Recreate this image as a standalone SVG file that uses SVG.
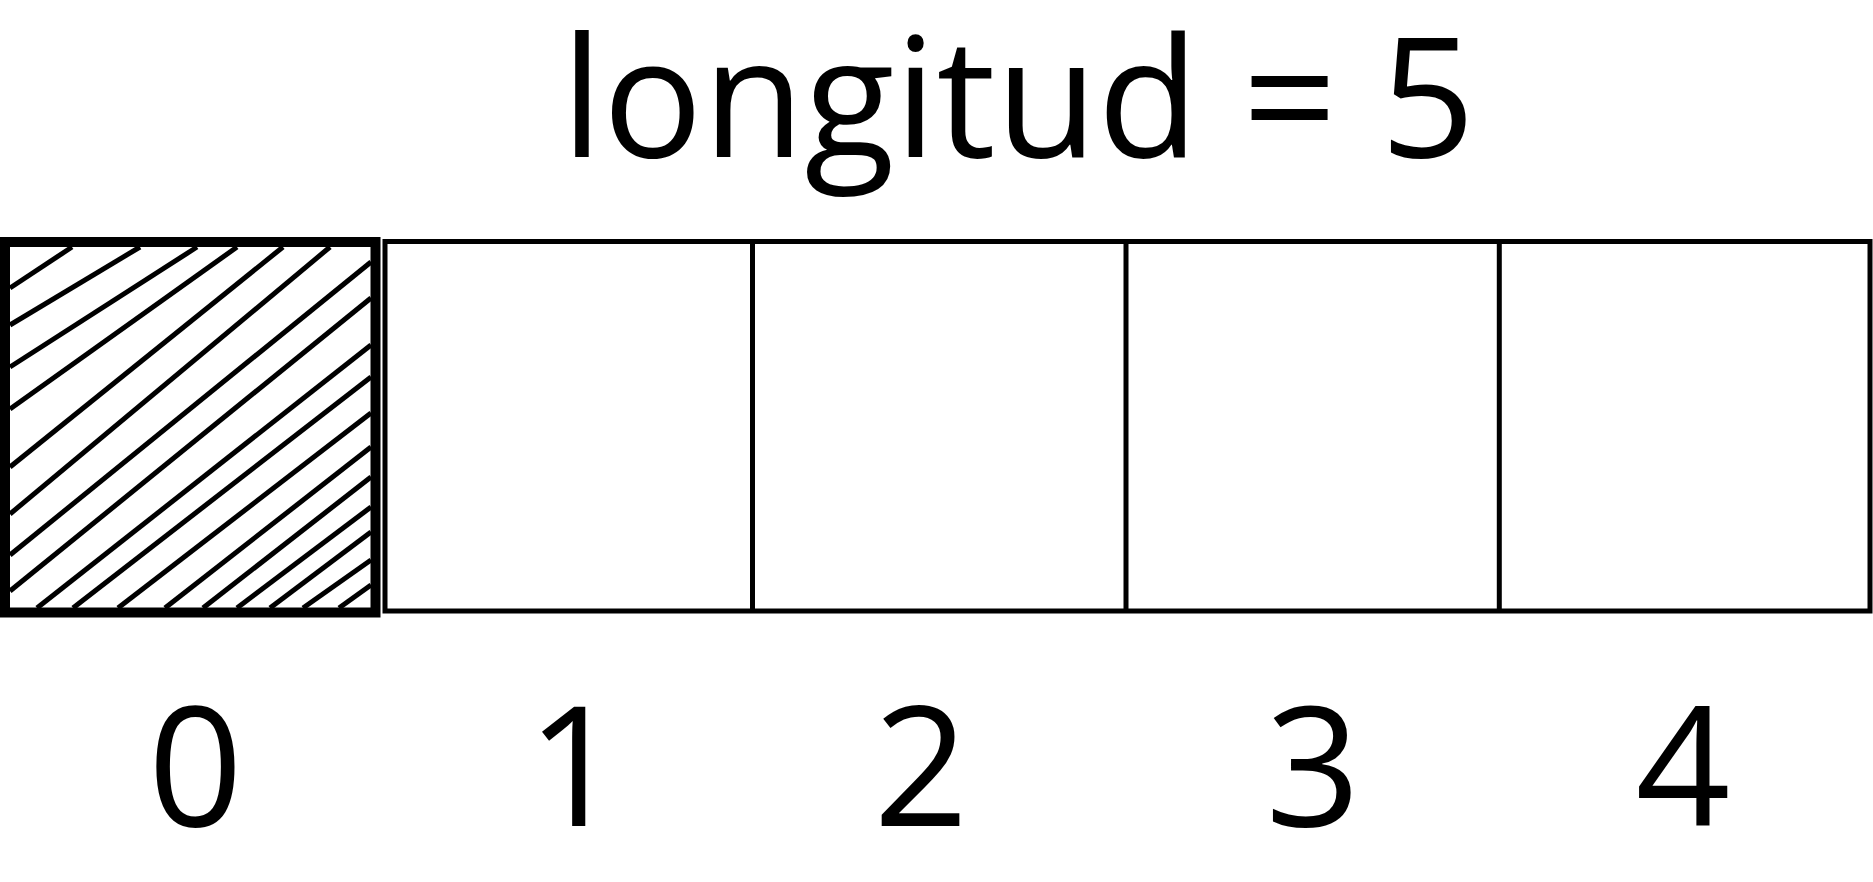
<svg xmlns="http://www.w3.org/2000/svg" width="1873" height="882" viewBox="0 0 1873 882">
  <style>
    .lbl { font-family: "Open Sans", "Noto Sans", "Liberation Sans", sans-serif; fill: #000; }
    .thin { fill: none; stroke: #000; stroke-width: 5; }
    .hatch { stroke: #000; stroke-width: 5; fill: none; }
    .thick { fill: none; stroke: #000; stroke-width: 10; }
  </style>
  <rect width="1873" height="882" fill="#fff"/>
  <g id="title">
    <text class="lbl" x="1018" y="157" font-size="166" text-anchor="middle">longitud = 5</text>
  </g>
  <g id="array">
    <rect class="thin" x="385" y="241.5" width="1485" height="369.5"/>
    <line class="thin" x1="752.5" y1="241.5" x2="752.5" y2="611" stroke-width="7"/>
    <line class="thin" x1="1126" y1="241.5" x2="1126" y2="611" stroke-width="10"/>
    <line class="thin" x1="1499.3" y1="241.5" x2="1499.3" y2="611" stroke-width="7"/>
  </g>
  <g id="cell0">
    <g class="hatch">
      <line x1="10" y1="288" x2="72" y2="247"/>
      <line x1="10" y1="325" x2="140" y2="247"/>
      <line x1="10" y1="367" x2="197" y2="247"/>
      <line x1="10" y1="409" x2="237" y2="247"/>
      <line x1="10" y1="467" x2="283" y2="247"/>
      <line x1="10" y1="514" x2="330" y2="247"/>
      <line x1="10" y1="555" x2="371" y2="262"/>
      <line x1="10" y1="591" x2="371" y2="298"/>
      <line x1="37" y1="608" x2="371" y2="345"/>
      <line x1="73" y1="608" x2="371" y2="377"/>
      <line x1="118" y1="608" x2="371" y2="413"/>
      <line x1="165" y1="608" x2="371" y2="447"/>
      <line x1="203" y1="608" x2="371" y2="477"/>
      <line x1="237" y1="608" x2="371" y2="507"/>
      <line x1="270" y1="608" x2="371" y2="532"/>
      <line x1="303" y1="608" x2="371" y2="560"/>
      <line x1="339" y1="608" x2="371" y2="585"/>
    </g>
    <rect class="thick" x="5" y="242" width="370.5" height="370.5"/>
  </g>
  <g id="indices">
    <text class="lbl" x="195.5" y="826" font-size="166" text-anchor="middle">0</text>
    <text class="lbl" x="574.5" y="826" font-size="166" text-anchor="middle">1</text>
    <text class="lbl" x="921" y="826" font-size="166" text-anchor="middle">2</text>
    <text class="lbl" x="1313" y="826" font-size="166" text-anchor="middle">3</text>
    <text class="lbl" x="1683" y="826" font-size="166" text-anchor="middle">4</text>
  </g>
</svg>
